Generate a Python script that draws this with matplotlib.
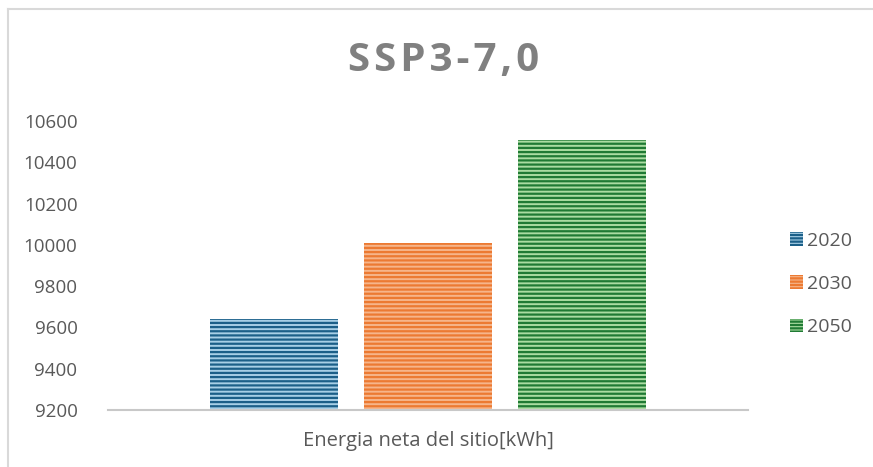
import matplotlib.pyplot as plt
from matplotlib.patches import Patch
from matplotlib.lines import Line2D

# Data
years = ['2020', '2030', '2050']
values = [9640, 10010, 10510]
category = 'Energia neta del sitio[kWh]'
yticks = [9200, 9400, 9600, 9800, 10000, 10200, 10400, 10600]

dark = ['#1b5f88', '#ec7a32', '#1f7a34']
light = ['#a7cfe6', '#f6b58a', '#aadca2']

plt.rcParams['font.family'] = ['Open Sans', 'DejaVu Sans']
plt.rcParams['hatch.linewidth'] = 1.6

W, H = 873, 467
fig = plt.figure(figsize=(W / 100, H / 100), dpi=100)
ax = fig.add_axes([108 / W, 1 - 410 / H, 640 / W, 289 / H])

pos = [-1, 0, 1]
for p, v, lc, dc in zip(pos, values, light, dark):
    ax.bar(p, v - 9200, bottom=9200, width=0.825, facecolor=lc,
           edgecolor=dc, hatch='----', linewidth=0)

ax.set_xlim(-320 / 154, 320 / 154)
ax.set_ylim(9200, 10600)
ax.set_yticks(yticks)
ax.set_yticklabels([str(t) for t in yticks], fontsize=13.5, color='#595959')
ax.set_xticks([])
ax.tick_params(axis='y', length=0, pad=22)
for s in ['top', 'right', 'left']:
    ax.spines[s].set_visible(False)
ax.spines['bottom'].set_color('#c8c8c8')
ax.spines['bottom'].set_linewidth(1.5)

fig.text(428 / W, 1 - 441 / H, category, ha='center', va='center',
         fontsize=14.5, color='#595959')
fig.text(444 / W, 1 - 60 / H, '\u200a'.join('SSP3-7,0'),
         ha='center', va='center', fontsize=29, fontweight='bold',
         color='#808080')

handles = [Patch(facecolor=lc, edgecolor=dc, hatch='-----', linewidth=0)
           for lc, dc in zip(light, dark)]
leg = fig.legend(handles, years, loc='center left',
                 bbox_to_anchor=(772 / W, 1 - 284 / H), frameon=False,
                 fontsize=14, labelspacing=1.3, handlelength=0.7,
                 handleheight=0.7, handletextpad=0.2)
for t in leg.get_texts():
    t.set_color('#595959')

# chart border (left and top only visible)
fig.add_artist(Line2D([7.5 / W, 7.5 / W], [0, 1 - 9 / H], color='#d9d9d9',
                      linewidth=1.5, transform=fig.transFigure))
fig.add_artist(Line2D([7.5 / W, 1], [1 - 9 / H, 1 - 9 / H], color='#d9d9d9',
                      linewidth=1.5, transform=fig.transFigure))

fig.savefig('out.png', dpi=100)
